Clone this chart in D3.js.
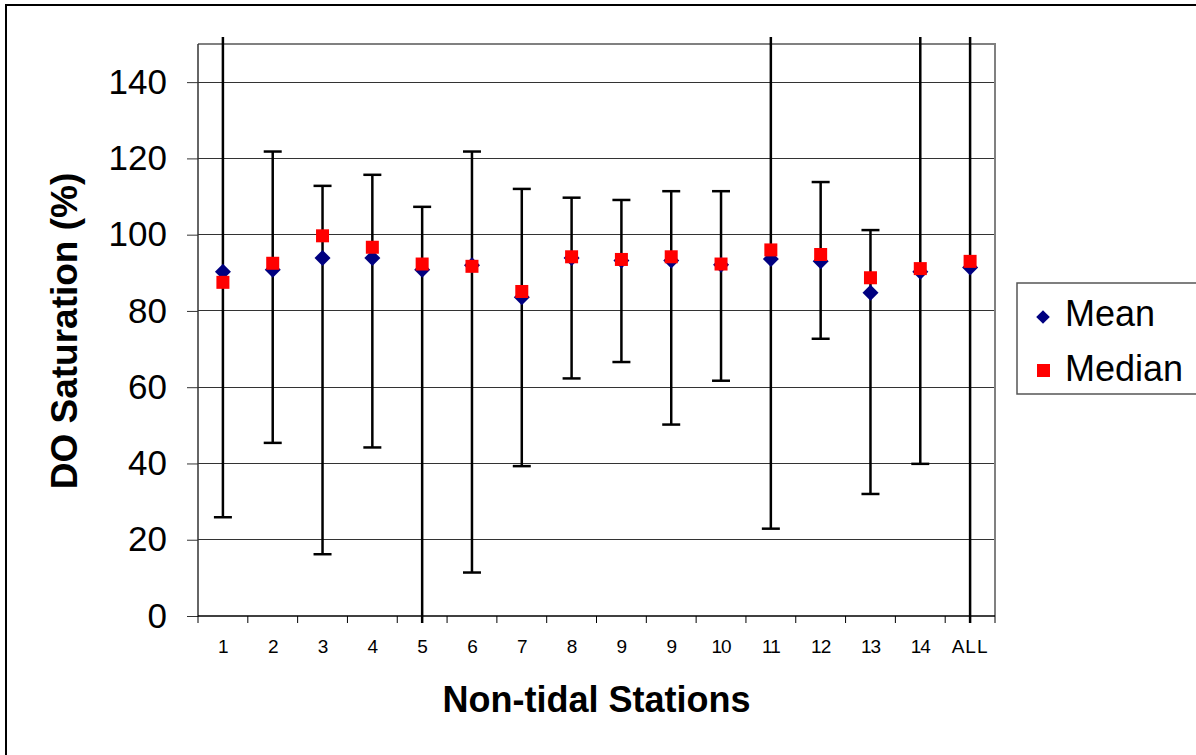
<!DOCTYPE html>
<html>
<head>
<meta charset="utf-8">
<script src="https://cdn.jsdelivr.net/npm/d3@7"></script>
<style>
    body { margin: 0; background: #fff; }
    svg { display: block; font-family: Arial, "Liberation Sans", sans-serif; }
</style>
</head>
<body>
<svg id="chart" width="1196" height="755"></svg>
<script>
// station labels (note the repeated "9" as in the source)
var stations = ["1", "2", "3", "4", "5", "6", "7", "8", "9", "9", "10", "11", "12", "13", "14", "ALL"];
var meanVals = [90.3, 90.8, 93.9, 93.9, 90.8, 92.0, 83.6, 93.9, 93.2, 93.2, 92.1, 93.6, 93.0, 84.8, 90.3, 91.4];
var medianVals = [87.5, 92.5, 99.7, 96.7, 92.3, 91.7, 85.1, 94.2, 93.5, 94.2, 92.3, 96.0, 94.8, 88.7, 91.1, 93.0];
// error bar ends; values past the axis run off the plot without a cap
var upperVals = [170, 121.8, 112.8, 115.7, 107.3, 121.8, 112.0, 109.7, 109.1, 111.4, 111.4, 170, 113.8, 101.2, 170, 170];
var lowerVals = [25.9, 45.4, 16.2, 44.2, -10, 11.4, 39.3, 62.3, 66.6, 50.2, 61.7, 22.9, 72.7, 32.0, 39.9, -10];
var yTicks = [0, 20, 40, 60, 80, 100, 120, 140];

var svg = d3.select("#chart");

var margins = { top: 44, left: 198, right: 201, bottom: 139 };
var width = 1196 - margins.left - margins.right;
var height = 755 - margins.top - margins.bottom;

var x = d3.scaleBand()
    .domain(d3.range(stations.length))
    .range([margins.left, margins.left + width]);

var y = d3.scaleLinear()
    .domain([0, 150])
    .range([margins.top + height, margins.top]);

// outer chart frame
svg.append("rect")
    .attr("x", 6).attr("y", 5)
    .attr("width", 1200).attr("height", 760)
    .attr("fill", "none")
    .attr("stroke", "#000")
    .attr("stroke-width", 2);

// gridlines
svg.append("g")
    .selectAll("line")
    .data(yTicks.filter(d => d > 0))
    .join("line")
    .attr("x1", margins.left).attr("x2", margins.left + width)
    .attr("y1", d => y(d)).attr("y2", d => y(d))
    .attr("stroke", "#333")
    .attr("stroke-width", 1)
    .attr("shape-rendering", "crispEdges");

// plot frame top + right (grey)
svg.append("path")
    .attr("d", "M" + margins.left + "," + y(150) + "H" + (margins.left + width) + "V" + y(0))
    .attr("fill", "none")
    .attr("stroke", "#808080")
    .attr("stroke-width", 2);

// y axis
var yAxis = svg.append("g")
    .attr("transform", "translate(" + margins.left + ",0)")
    .call(d3.axisLeft(y).tickValues(yTicks).tickSize(11).tickPadding(20));
yAxis.select(".domain").attr("stroke", "#333").attr("stroke-width", 1.5).attr("d", "M0," + y(0) + "V" + y(150));
yAxis.selectAll(".tick line").attr("stroke", "#333");
yAxis.selectAll(".tick text")
    .style("font-size", "35px")
    .attr("fill", "#000");

// x axis: ticks sit on category boundaries
var xAxis = svg.append("g")
    .attr("transform", "translate(0," + y(0) + ")");
xAxis.append("line")
    .attr("x1", margins.left).attr("x2", margins.left + width)
    .attr("stroke", "#000").attr("stroke-width", 1.5);
xAxis.selectAll(".xtick")
    .data(d3.range(stations.length + 1))
    .join("line")
    .attr("class", "xtick")
    .attr("x1", i => margins.left + i * x.step())
    .attr("x2", i => margins.left + i * x.step())
    .attr("y1", 0).attr("y2", 7)
    .attr("stroke", "#000");
xAxis.selectAll(".xlabel")
    .data(stations)
    .join("text")
    .attr("class", "xlabel")
    .attr("x", (d, i) => x(i) + x.bandwidth() / 2)
    .attr("y", 37)
    .attr("text-anchor", "middle")
    .style("font-size", "19px")
    .style("letter-spacing", d => d === "ALL" ? "1px" : "-1px")
    .text(d => d);

// error bars, clipped a little outside the plot like the original
svg.append("clipPath").attr("id", "errclip")
    .append("rect")
    .attr("x", 0).attr("y", margins.top - 7)
    .attr("width", 1196).attr("height", height + 14);

var errs = svg.append("g").attr("clip-path", "url(#errclip)")
    .selectAll("g")
    .data(stations.map((s, i) => ({ i: i, hi: upperVals[i], lo: lowerVals[i] })))
    .join("g")
    .attr("transform", d => "translate(" + (x(d.i) + x.bandwidth() / 2) + ",0)");
errs.append("line")
    .attr("y1", d => y(d.hi)).attr("y2", d => y(d.lo))
    .attr("stroke", "#000").attr("stroke-width", 2.5);
errs.selectAll(".cap")
    .data(d => [d.hi, d.lo])
    .join("line")
    .attr("class", "cap")
    .attr("x1", -9).attr("x2", 9)
    .attr("y1", v => y(v)).attr("y2", v => y(v))
    .attr("stroke", "#000").attr("stroke-width", 2.5);

// mean diamonds
var diamond = "M0,-8L8,0L0,8L-8,0Z";
svg.append("g")
    .selectAll("path")
    .data(meanVals)
    .join("path")
    .attr("d", diamond)
    .attr("transform", (d, i) => "translate(" + (x(i) + x.bandwidth() / 2) + "," + y(d) + ")")
    .attr("fill", "#000080");

// median squares
svg.append("g")
    .selectAll("rect")
    .data(medianVals)
    .join("rect")
    .attr("x", (d, i) => x(i) + x.bandwidth() / 2 - 6.5)
    .attr("y", d => y(d) - 6.5)
    .attr("width", 13).attr("height", 13)
    .attr("fill", "#ff0000");

// axis titles
svg.append("text")
    .attr("x", margins.left + width / 2)
    .attr("y", 712)
    .attr("text-anchor", "middle")
    .style("font-size", "36px")
    .style("font-weight", "700")
    .text("Non-tidal Stations");

svg.append("text")
    .attr("transform", "translate(77,331) rotate(-90)")
    .attr("text-anchor", "middle")
    .style("font-size", "37px")
    .style("font-weight", "700")
    .text("DO Saturation (%)");

// legend
var legend = svg.append("g").attr("transform", "translate(1017,283)");
legend.append("rect")
    .attr("width", 190).attr("height", 111)
    .attr("fill", "#fff")
    .attr("stroke", "#555").attr("stroke-width", 1.5);
legend.append("path")
    .attr("d", diamond)
    .attr("transform", "translate(26,34) scale(0.85)")
    .attr("fill", "#000080");
legend.append("rect")
    .attr("x", 20).attr("y", 81)
    .attr("width", 13).attr("height", 13)
    .attr("fill", "#ff0000");
legend.selectAll(".ltext")
    .data(["Mean", "Median"])
    .join("text")
    .attr("class", "ltext")
    .attr("x", 48)
    .attr("y", (d, i) => 43 + i * 55)
    .style("font-size", "36px")
    .text(d => d);
</script>
</body>
</html>
